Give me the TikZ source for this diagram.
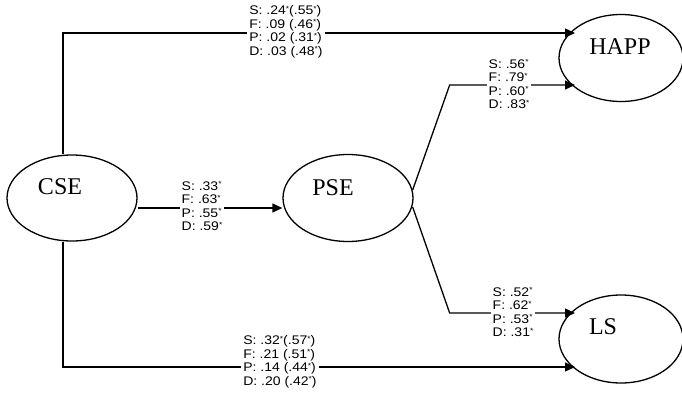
\documentclass[tikz,border=0pt]{standalone}
\usepackage{fontspec}
\setmainfont{Liberation Serif}
\newfontfamily\labfont[FakeStretch=1.12]{Liberation Sans}
\usetikzlibrary{shapes.geometric,arrows.meta,calc}
\newcommand{\sg}{\raisebox{3.5pt}{\fontsize{7.5}{7.5}\selectfont *}}
\begin{document}
\begin{tikzpicture}[x=1pt,y=-1pt,
  latent/.style={ellipse, draw, line width=1.3pt, inner sep=0pt},
  lname/.style={font=\fontsize{24}{26}\selectfont, inner sep=0pt},
  coef/.style={font=\labfont\fontsize{12.5}{13.5}\selectfont, align=left, fill=white, inner xsep=2pt, inner ysep=0pt},
  pathline/.style={line width=1.3pt, -{Triangle[length=10pt,width=9pt]}},
  link/.style={line width=1.3pt}]
\useasboundingbox (0,0) rectangle (682,396);

\node[latent, minimum width=130pt, minimum height=86pt,
  label={[lname,xshift=-12pt,yshift=11pt]center:CSE}] (cse) at (72,198) {};
\node[latent, minimum width=130pt, minimum height=87pt,
  label={[lname,xshift=-15pt,yshift=10pt]center:PSE}] (pse) at (348,198) {};
\node[latent, minimum width=124pt, minimum height=87pt,
  label={[lname,xshift=-1pt,yshift=11pt]center:HAPP}] (happ) at (621,58) {};
\node[latent, minimum width=124pt, minimum height=88pt,
  label={[lname,xshift=-18pt,yshift=12pt]center:LS}] (ls) at (621,339) {};

\draw[pathline] ($(cse.north)+(-9,0)$) |- ($(happ.center)+(-46,-25)$);
\draw[pathline] ($(cse.east)+(0,10)$) -- ($(pse.west)+(0,10)$);
\draw[pathline] ($(pse.east)+(-1,-8)$) -- ++(37,-105) -- ($(happ.center)+(-46,27)$);
\draw[pathline] ($(pse.east)+(-1,9)$) -- ++(37,106) -- ($(ls.center)+(-46,-26)$);
\draw[pathline] ($(cse.south)+(-9,0)$) |- ($(ls.center)+(-46,28)$);

\node[coef] (c1) at (286,32) {S: .24\sg(.55\sg)\\F: .09 (.46\sg)\\P: .02 (.31\sg)\\D: .03 (.48\sg)};
\node[coef] (c2) at (202,206) {S: .33\sg\\F: .63\sg\\P: .55\sg\\D: .59\sg};
\node[coef] (c3) at (509,84) {S: .56\sg\\F: .79\sg\\P: .60\sg\\D: .83\sg};
\node[coef] (c4) at (513,312) {S: .52\sg\\F: .62\sg\\P: .53\sg\\D: .31\sg};
\node[coef] (c5) at (280,362) {S: .32\sg(.57\sg)\\F: .21 (.51\sg)\\P: .14 (.44\sg)\\D: .20 (.42\sg)};
\end{tikzpicture}
\end{document}
